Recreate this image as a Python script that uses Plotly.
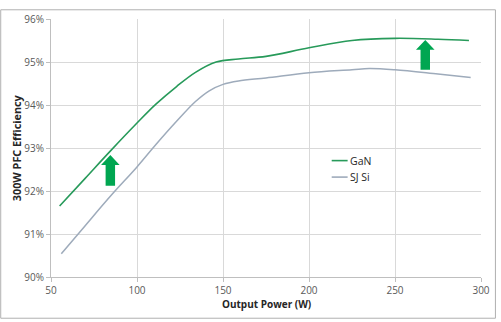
import plotly.graph_objects as go

# ---- data ----
gan_x = [55, 70, 85, 100, 111, 123, 134, 146, 159, 175, 200, 225, 250, 275, 293]
gan_y = [91.65, 92.30, 92.95, 93.58, 94.02, 94.43, 94.76, 95.00, 95.07, 95.13, 95.33, 95.50, 95.55, 95.53, 95.50]

si_x = [56, 70, 85, 100, 111, 123, 134, 142, 150, 159, 175, 200, 225, 235, 250, 275, 294]
si_y = [90.54, 91.20, 91.90, 92.56, 93.08, 93.62, 94.08, 94.33, 94.48, 94.56, 94.63, 94.75, 94.82, 94.85, 94.82, 94.72, 94.64]

series_names = ["GaN", "SJ Si"]
series_colors = ["#279a5a", "#9eabbb"]

x_ticks = [50, 100, 150, 200, 250, 300]
y_ticks = [90, 91, 92, 93, 94, 95, 96]
y_tick_text = [f"{v}%" for v in y_ticks]

# arrows: (x center, bottom y, tip y)
arrows = [(84.5, 92.12, 92.84), (267.6, 94.82, 95.51)]
arrow_color = "#00a651"

W, H = 501, 322
ML, MR, MT, MB = 51, 18, 11, 45
PW, PH = W - ML - MR, H - MT - MB

def px_x(p):
    return (p - ML) / PW

def px_y(p):
    return (H - MB - p) / PH

FONT = "Open Sans"

fig = go.Figure()
fig.add_trace(go.Scatter(x=gan_x, y=gan_y, mode="lines", name=series_names[0],
                         line=dict(color=series_colors[0], width=1.6, shape="spline", smoothing=1.0)))
fig.add_trace(go.Scatter(x=si_x, y=si_y, mode="lines", name=series_names[1],
                         line=dict(color=series_colors[1], width=1.5, shape="spline", smoothing=1.0)))

shapes = []
for (cx, yb, yt) in arrows:
    hh = (yt - yb) * 0.33
    hw, sw = 5.4, 2.75
    yh = yt - hh
    path = (f"M {cx-sw},{yb} L {cx+sw},{yb} L {cx+sw},{yh} L {cx+hw},{yh} "
            f"L {cx},{yt} L {cx-hw},{yh} L {cx-sw},{yh} Z")
    shapes.append(dict(type="path", path=path, xref="x", yref="y",
                       fillcolor=arrow_color, line=dict(width=0), layer="above"))

# chart frame
shapes.append(dict(type="rect", xref="paper", yref="paper",
                   x0=px_x(0.5), x1=px_x(497.5), y0=px_y(319.5), y1=px_y(1.5),
                   line=dict(color="#b0b0b0", width=1), layer="below"))

# manual legend
legend_rows = [157, 174]
annotations = []
for name, col, py in zip(series_names, series_colors, legend_rows):
    shapes.append(dict(type="line", xref="paper", yref="paper",
                       x0=px_x(333), x1=px_x(349), y0=px_y(py), y1=px_y(py),
                       line=dict(color=col, width=1.6)))
    annotations.append(dict(xref="paper", yref="paper", x=px_x(349), y=px_y(py),
                            xanchor="left", yanchor="middle", text=name, showarrow=False,
                            font=dict(family=FONT, size=10.5, color="#262626")))

annotations.append(dict(xref="paper", yref="paper", x=px_x(16), y=0.5, textangle=-90,
                        text="<b>300W PFC Efficiency</b>", showarrow=False,
                        xanchor="center", yanchor="middle",
                        font=dict(family=FONT, size=10.8, color="#262626")))
annotations.append(dict(xref="paper", yref="paper", x=px_x(267), y=px_y(305),
                        text="<b>Output Power (W)</b>", showarrow=False,
                        xanchor="center", yanchor="middle",
                        font=dict(family=FONT, size=10, color="#262626")))

fig.update_layout(
    width=W, height=H,
    margin=dict(l=ML, r=MR, t=MT, b=MB, pad=0),
    paper_bgcolor="white", plot_bgcolor="white",
    showlegend=False,
    shapes=shapes, annotations=annotations,
    xaxis=dict(range=[50, 300], tickvals=x_ticks, showgrid=True, gridcolor="#d9d9d9",
               gridwidth=1, showline=True, linecolor="#bfbfbf", ticks="outside",
               ticklen=4, tickcolor="#bfbfbf", zeroline=False,
               tickfont=dict(family=FONT, size=10, color="#595959")),
    yaxis=dict(range=[90, 96], tickvals=y_ticks, ticktext=y_tick_text, showgrid=True,
               gridcolor="#d9d9d9", gridwidth=1, showline=True, linecolor="#bfbfbf",
               ticks="outside", ticklen=4, tickcolor="#bfbfbf", zeroline=False,
               tickfont=dict(family=FONT, size=10, color="#595959")),
)

fig.write_html("out.html")
